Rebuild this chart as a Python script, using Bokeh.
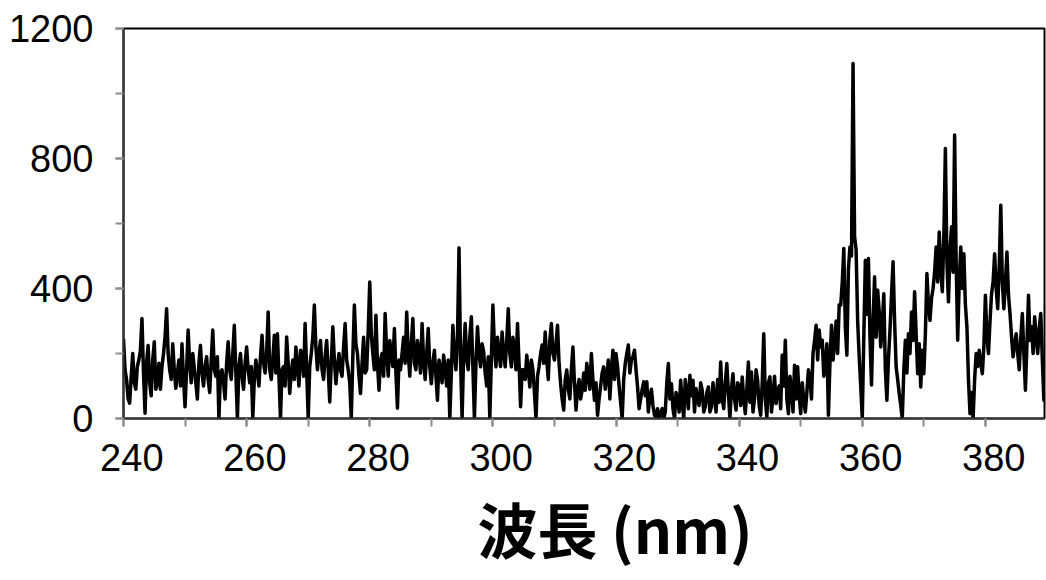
from bokeh.plotting import figure
from bokeh.models import Range1d, LinearAxis, SingleIntervalTicker, Title, CustomJSTickFormatter
from bokeh.embed import file_html
from bokeh.resources import INLINE

# sampled spectrum: start wavelength, sampling step (nm), intensities (counts)
wl_start = 240.0
wl_step = 0.25
intensity = [
    245, 150, 120, 60, 47, 130, 200, 110, 90, 160, 180, 210, 308, 140, 16, 170, 225, 110, 70, 180,
    236, 90, 110, 170, 90, 160, 200, 250, 338, 200, 150, 120, 230, 150, 93, 140, 180, 100, 230, 120,
    36, 150, 272, 170, 110, 200, 154, 110, 60, 170, 225, 140, 100, 160, 190, 120, 80, 180, 272, 150,
    130, 190, 0, 140, 150, 110, 60, 170, 236, 150, 120, 200, 287, 140, 0, 160, 200, 130, 90, 170,
    220, 150, 110, 160, 0, 120, 180, 140, 100, 190, 256, 170, 140, 200, 328, 150, 120, 180, 256, 140,
    261, 130, 0, 150, 160, 100, 251, 170, 77, 140, 180, 120, 220, 160, 100, 210, 200, 130, 292, 150,
    0, 160, 200, 250, 349, 220, 150, 200, 240, 150, 120, 190, 240, 150, 51, 170, 282, 180, 107, 160,
    200, 150, 130, 220, 292, 180, 150, 110, 0, 190, 349, 230, 200, 130, 77, 170, 250, 140, 150, 270,
    420, 260, 200, 150, 318, 170, 87, 180, 200, 130, 323, 200, 130, 240, 200, 160, 277, 140, 32, 180,
    150, 200, 250, 170, 328, 200, 130, 230, 308, 170, 150, 240, 200, 140, 292, 180, 120, 200, 277, 160,
    107, 170, 210, 130, 56, 180, 150, 110, 195, 150, 100, 180, 0, 140, 287, 200, 150, 250, 525, 180,
    0, 200, 292, 180, 150, 250, 313, 160, 0, 170, 282, 200, 159, 230, 205, 140, 100, 190, 0, 180,
    349, 220, 159, 250, 200, 160, 266, 200, 159, 240, 338, 200, 159, 250, 220, 150, 292, 170, 36, 150,
    150, 120, 195, 150, 97, 180, 150, 80, 0, 130, 160, 200, 226, 170, 266, 180, 120, 240, 292, 200,
    180, 230, 287, 170, 107, 60, 26, 120, 149, 90, 60, 150, 220, 110, 26, 90, 120, 60, 87, 140,
    87, 170, 130, 90, 200, 120, 56, 110, 10, 60, 100, 140, 159, 90, 128, 180, 60, 150, 210, 120,
    200, 160, 100, 50, 0, 120, 169, 200, 226, 140, 180, 190, 210, 150, 97, 30, 60, 90, 113, 70,
    113, 20, 67, 90, 40, 10, 5, 30, 0, 15, 31, 0, 20, 110, 169, 60, 107, 30, 0, 80,
    60, 20, 118, 50, 0, 120, 80, 30, 133, 70, 118, 20, 92, 60, 40, 110, 87, 20, 36, 80,
    97, 20, 36, 110, 67, 20, 120, 50, 174, 60, 30, 110, 169, 80, 0, 90, 138, 60, 26, 110,
    100, 40, 128, 60, 15, 90, 174, 50, 143, 20, 60, 150, 118, 40, 10, 110, 261, 60, 5, 110,
    128, 20, 67, 130, 46, 80, 100, 30, 195, 100, 241, 60, 15, 130, 90, 20, 164, 60, 159, 70,
    15, 110, 56, 20, 80, 150, 123, 60, 200, 240, 287, 180, 272, 220, 241, 130, 169, 230, 10, 170,
    287, 180, 231, 300, 200, 350, 349, 420, 523, 280, 195, 460, 528, 500, 1092, 560, 518, 300, 190, 100,
    0, 250, 487, 320, 492, 250, 103, 300, 436, 250, 395, 330, 220, 290, 384, 150, 56, 180, 272, 380,
    482, 300, 159, 120, 77, 40, 0, 150, 241, 140, 261, 200, 328, 240, 390, 260, 138, 230, 97, 210,
    138, 260, 446, 350, 302, 370, 400, 450, 528, 420, 574, 460, 390, 560, 831, 480, 359, 520, 590, 450,
    872, 480, 241, 420, 528, 400, 507, 350, 282, 120, 15, 80, 0, 120, 200, 160, 210, 170, 138, 220,
    379, 250, 200, 300, 384, 420, 507, 400, 338, 470, 656, 420, 338, 420, 512, 380, 323, 250, 190, 230,
    261, 200, 150, 250, 323, 200, 87, 230, 379, 240, 282, 200, 313, 250, 200, 280, 323, 180, 56, 150,
]
wavelength = [wl_start + wl_step * i for i in range(len(intensity))]

x_min, x_max = 240, 389.6
y_min, y_max = 0, 1200
x_tick_step = 20
y_tick_step = 400
x_title = "波長 (nm)"

tick_font = "Liberation Sans"
tick_color = "#8c8c8c"

p = figure(width=1046, height=580, output_backend="svg", toolbar_location=None,
           x_range=Range1d(x_min, x_max), y_range=Range1d(y_min, y_max),
           min_border_left=123, min_border_right=2, min_border_top=28,
           min_border_bottom=162)
p.title.visible = False
p.xgrid.visible = False
p.ygrid.visible = False
p.background_fill_color = "white"
p.border_fill_color = "white"
p.outline_line_color = "black"
p.outline_line_width = 2

p.line(wavelength, intensity, line_color="black", line_width=3.5, line_join="round")

# y axis
ya = p.yaxis[0]
ya.ticker = SingleIntervalTicker(interval=y_tick_step, num_minor_ticks=2)
ya.axis_line_color = "#333333"
ya.axis_line_width = 2
ya.major_tick_in = 0
ya.major_tick_out = 8
ya.minor_tick_in = 0
ya.minor_tick_out = 8
ya.major_tick_line_color = tick_color
ya.minor_tick_line_color = tick_color
ya.major_tick_line_width = 2
ya.minor_tick_line_width = 2
ya.major_label_text_font = tick_font
ya.major_label_text_font_size = "38px"
ya.major_label_text_color = "black"
ya.major_label_standoff = 22

# x axis: ticks only
xa = p.xaxis[0]
xa.ticker = SingleIntervalTicker(interval=x_tick_step, num_minor_ticks=2)
xa.axis_line_color = "#333333"
xa.axis_line_width = 2
xa.major_tick_in = 0
xa.major_tick_out = 8
xa.minor_tick_in = 0
xa.minor_tick_out = 8
xa.major_tick_line_color = tick_color
xa.minor_tick_line_color = tick_color
xa.major_tick_line_width = 2
xa.minor_tick_line_width = 2
xa.formatter = CustomJSTickFormatter(code="return ''")
xa.major_label_standoff = 0
xa.major_label_text_font_size = "1px"

# x axis labels (slightly offset to the right, as in the original)
shift = 1.35
p.extra_x_ranges = {"lab": Range1d(x_min - shift, x_max - shift)}
la = LinearAxis(x_range_name="lab",
                ticker=SingleIntervalTicker(interval=x_tick_step, num_minor_ticks=0))
la.axis_line_color = None
la.major_tick_line_color = None
la.minor_tick_line_color = None
la.major_tick_in = 0
la.major_tick_out = 0
la.major_label_text_font = tick_font
la.major_label_text_font_size = "38px"
la.major_label_text_color = "black"
la.major_label_standoff = 17
p.add_layout(la, "below")

t = Title(text=x_title, align="left", offset=354, text_font="Noto Sans CJK JP",
          text_font_size="60px", text_font_style="bold", text_color="black", standoff=16)
p.add_layout(t, "below")

open("out.html", "w").write(file_html(p, INLINE))
